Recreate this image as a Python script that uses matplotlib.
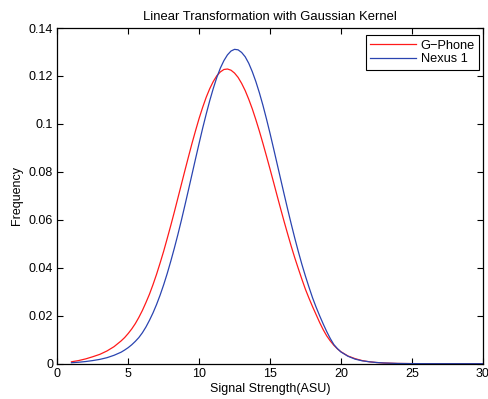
import matplotlib
matplotlib.use("Agg")
import matplotlib.pyplot as plt
from matplotlib.ticker import FuncFormatter

# kernel density estimates of signal strength (ASU)
signal_asu = [1.0, 1.5, 2.0, 2.5, 3.0, 3.5, 4.0,
              4.5, 4.75, 5.0, 5.25, 5.5, 5.75, 6.0, 6.25, 6.5, 6.75,
              7.0, 7.25, 7.5, 7.75, 8.0, 8.25, 8.5, 8.75, 9.0, 9.25, 9.5, 9.75,
              10.0, 10.25, 10.5, 10.75, 11.0, 11.25, 11.5, 11.75, 12.0, 12.25, 12.5, 12.75,
              13.0, 13.25, 13.5, 13.75, 14.0, 14.25, 14.5, 14.75, 15.0, 15.25, 15.5, 15.75,
              16.0, 16.25, 16.5, 16.75, 17.0, 17.25, 17.5, 17.75, 18.0, 18.25, 18.5, 18.75,
              19.0, 19.25, 19.5, 19.75, 20.0,
              20.5, 21.0, 21.5, 22.0, 22.5, 23.0, 23.5, 24.0, 25.0, 26.0, 30.0]

gphone_freq = [0.0008, 0.0013, 0.0020, 0.0029, 0.0039, 0.0053, 0.0071,
               0.0095, 0.0109, 0.0126, 0.0145, 0.0167, 0.0193, 0.0222, 0.0255, 0.0290, 0.0330,
               0.0373, 0.0420, 0.0469, 0.0522, 0.0576, 0.0632, 0.0690, 0.0748, 0.0806, 0.0863, 0.0919, 0.0972,
               0.1023, 0.1069, 0.1111, 0.1147, 0.1177, 0.1201, 0.1217, 0.1227, 0.1229, 0.1224, 0.1212, 0.1194,
               0.1169, 0.1139, 0.1103, 0.1063, 0.1018, 0.0970, 0.0919, 0.0866, 0.0812, 0.0757, 0.0701, 0.0646,
               0.0592, 0.0540, 0.0489, 0.0441, 0.0396, 0.0352, 0.0310, 0.0273, 0.0238, 0.0205, 0.0172, 0.0142,
               0.0116, 0.0095, 0.0077, 0.0062, 0.0050,
               0.0032, 0.0021, 0.0013, 0.0008, 0.0005, 0.0003, 0.0002, 0.0001, 0.00004, 0.00001, 0.0]

nexus_freq = [0.0004, 0.0006, 0.0009, 0.0013, 0.0018, 0.0025, 0.0035,
              0.0048, 0.0057, 0.0067, 0.0079, 0.0093, 0.0109, 0.0129, 0.0153, 0.0181, 0.0212,
              0.0247, 0.0286, 0.0329, 0.0376, 0.0427, 0.0481, 0.0538, 0.0598, 0.0661, 0.0725, 0.0790, 0.0855,
              0.0919, 0.0982, 0.1041, 0.1097, 0.1148, 0.1194, 0.1233, 0.1264, 0.1288, 0.1304, 0.1311, 0.1309,
              0.1298, 0.1280, 0.1253, 0.1218, 0.1177, 0.1130, 0.1078, 0.1021, 0.0961, 0.0898, 0.0834, 0.0770,
              0.0706, 0.0643, 0.0582, 0.0523, 0.0467, 0.0414, 0.0365, 0.0319, 0.0275, 0.0236, 0.0200, 0.0166,
              0.0134, 0.0105, 0.0080, 0.0063, 0.0049,
              0.0031, 0.0019, 0.0012, 0.0008, 0.0005, 0.0003, 0.0002, 0.0001, 0.00003, 0.00001, 0.0]

x_ticks = [0, 5, 10, 15, 20, 25, 30]
y_ticks = [0, 0.02, 0.04, 0.06, 0.08, 0.1, 0.12, 0.14]

plt.rcParams["font.family"] = ["Liberation Sans", "DejaVu Sans"]
plt.rcParams["font.size"] = 9

fig = plt.figure(figsize=(4.89, 3.99), dpi=100)
ax = fig.add_axes([0.1172, 0.0885, 0.8699, 0.8413])

ax.plot(signal_asu, gphone_freq, color="#ff1a1a", lw=0.9, label="G\u2212Phone")
ax.plot(signal_asu, nexus_freq, color="#2a44b0", lw=0.9, label="Nexus 1")

ax.set_xlim(0, 30)
ax.set_ylim(0, 0.14)
ax.set_xticks(x_ticks)
ax.set_yticks(y_ticks)
ax.yaxis.set_major_formatter(FuncFormatter(lambda v, _: "%g" % v))
ax.tick_params(direction="in", length=4, width=0.8, top=True, right=True,
               labelsize=9, pad=3)
for side in ax.spines.values():
    side.set_linewidth(0.9)

ax.set_title("Linear Transformation with Gaussian Kernel", fontsize=9.4, pad=6)
ax.set_xlabel("Signal Strength(ASU)", labelpad=2)
ax.set_ylabel("Frequency", labelpad=4)

leg = ax.legend(loc="upper right", bbox_to_anchor=(0.992, 0.979), borderaxespad=0,
                fancybox=False, framealpha=1, edgecolor="black", handlelength=3.6,
                handletextpad=0.35, borderpad=0.35, labelspacing=0.15, fontsize=9.2)
leg.get_frame().set_linewidth(0.8)

fig.savefig("out.png", dpi=100)
